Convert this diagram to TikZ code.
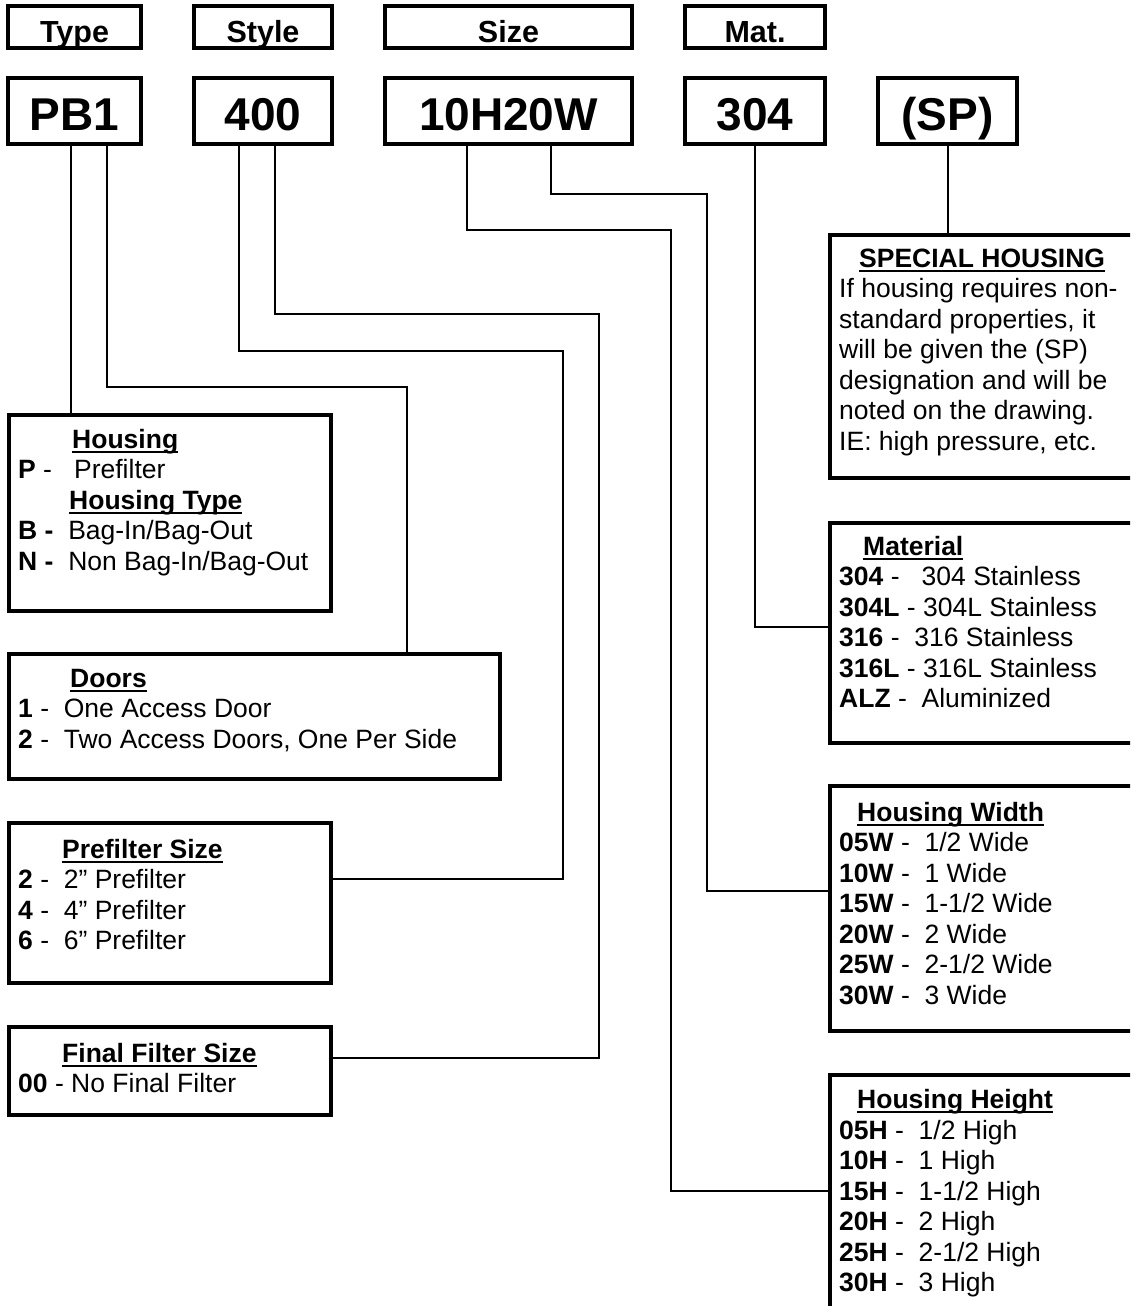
\documentclass[tikz,border=0pt]{standalone}
\usepackage{fontspec}
\setmainfont{Liberation Sans}
\newcommand{\hd}[1]{\setbox0=\hbox{\bfseries #1}\rlap{\rule[-4.5pt]{\wd0}{2pt}}\box0}
\newenvironment{lines}{\begin{tabular}[t]{@{}l@{}}}{\end{tabular}}
\begin{document}
\begin{tikzpicture}[x=1pt,y=-1pt,
  frame/.style={draw, rectangle, line width=4pt, inner sep=0pt},
  conn/.style={line width=2pt},
  hdrtxt/.style={anchor=base, inner sep=0pt, font=\fontsize{30.5}{36}\selectfont\bfseries},
  codetxt/.style={anchor=base, inner sep=0pt, font=\fontsize{46}{55}\selectfont\bfseries},
  body/.style={anchor=base west, inner sep=0pt, font=\fontsize{26.5}{30.5}\selectfont}]
\useasboundingbox (0,0) rectangle (1130,1306);
\clip (0,0) rectangle (1130,1306);
% header boxes
\node[frame, minimum width=133, minimum height=42] (htype) at (74.5,27) {};
\node[frame, minimum width=138, minimum height=42] (hstyle) at (263,27) {};
\node[frame, minimum width=247, minimum height=42] (hsize) at (508.5,27) {};
\node[frame, minimum width=140, minimum height=42] (hmat) at (755,27) {};
\node[hdrtxt] (ttype) at (74.5,43) {Type};
\node[hdrtxt] (tstyle) at (263,43) {Style};
\node[hdrtxt] (tsize) at (508.5,43) {Size};
\node[hdrtxt] (tmat) at (755,43) {Mat.};
% code boxes
\node[frame, minimum width=133, minimum height=66] (pb) at (74.5,111) {};
\node[frame, minimum width=138, minimum height=66] (sty) at (263,111) {};
\node[frame, minimum width=247, minimum height=66] (siz) at (508.5,111) {};
\node[frame, minimum width=140, minimum height=66] (mat) at (755,111) {};
\node[frame, minimum width=139, minimum height=66] (sp) at (947.5,111) {};
\node[codetxt] (cpb) at (74.5,130) {PB1};
\node[codetxt] (csty) at (263,130) {400};
\node[codetxt] (csiz) at (508.5,130) {10H20W};
\node[codetxt] (cmat) at (755,130) {304};
\node[codetxt] (csp) at (947.5,130) {(SP)};
% left description boxes
\node[frame, minimum width=322, minimum height=196] (housing) at (170,513) {};
\node[frame, minimum width=491, minimum height=125] (doors) at (254.5,716.5) {};
\node[frame, minimum width=322, minimum height=160] (prefilter) at (170,903) {};
\node[frame, minimum width=322, minimum height=88] (final) at (170,1071) {};
\node[body] (housingtxt) at (18,448) {\begin{lines}\hspace*{54pt}\hd{Housing}\\
\textbf{P} -\ \ \ Prefilter\\
\hspace*{51pt}\hd{Housing Type}\\
\textbf{B -}\ \ Bag-In/Bag-Out\\
\textbf{N -}\ \ Non Bag-In/Bag-Out\end{lines}};
\node[body] (doorstxt) at (18,687) {\begin{lines}\hspace*{52pt}\hd{Doors}\\
\textbf{1} -\ \ One Access Door\\
\textbf{2} -\ \ Two Access Doors, One Per Side\end{lines}};
\node[body] (prefiltertxt) at (18,858) {\begin{lines}\hspace*{44pt}\hd{Prefilter Size}\\
\textbf{2} -\ \ 2” Prefilter\\
\textbf{4} -\ \ 4” Prefilter\\
\textbf{6} -\ \ 6” Prefilter\end{lines}};
\node[body] (finaltxt) at (18,1062) {\begin{lines}\hspace*{44pt}\hd{Final Filter Size}\\
\textbf{00} - No Final Filter\end{lines}};
% right description boxes
\node[frame, minimum width=320, minimum height=243] (special) at (990,356.5) {};
\node[frame, minimum width=320, minimum height=220] (material) at (990,633) {};
\node[frame, minimum width=320, minimum height=245] (width) at (990,908.5) {};
\node[frame, minimum width=320, minimum height=260] (height) at (990,1205) {};
\node[body] (specialtxt) at (839,267) {\begin{lines}\hspace*{20pt}\hd{SPECIAL HOUSING}\\
If housing requires non-\\
standard properties, it\\
will be given the (SP)\\
designation and will be\\
noted on the drawing.\\
IE: high pressure, etc.\end{lines}};
\node[body] (materialtxt) at (839,555) {\begin{lines}\hspace*{24pt}\hd{Material}\\
\textbf{304} -\ \ \ 304 Stainless\\
\textbf{304L} - 304L Stainless\\
\textbf{316} -\ \ 316 Stainless\\
\textbf{316L} - 316L Stainless\\
\textbf{ALZ} -\ \ Aluminized\end{lines}};
\node[body] (widthtxt) at (839,821) {\begin{lines}\hspace*{18pt}\hd{Housing Width}\\
\textbf{05W} -\ \ 1/2 Wide\\
\textbf{10W} -\ \ 1 Wide\\
\textbf{15W} -\ \ 1-1/2 Wide\\
\textbf{20W} -\ \ 2 Wide\\
\textbf{25W} -\ \ 2-1/2 Wide\\
\textbf{30W} -\ \ 3 Wide\end{lines}};
\node[body] (heighttxt) at (839,1108.5) {\begin{lines}\hspace*{18pt}\hd{Housing Height}\\
\textbf{05H} -\ \ 1/2 High\\
\textbf{10H} -\ \ 1 High\\
\textbf{15H} -\ \ 1-1/2 High\\
\textbf{20H} -\ \ 2 High\\
\textbf{25H} -\ \ 2-1/2 High\\
\textbf{30H} -\ \ 3 High\end{lines}};
% connectors
\draw[conn] (pb.south -| 71,0) -- (housing.north -| 71,0);
\draw[conn] (pb.south -| 107,0) |- (407,387) -- (doors.north -| 407,0);
\draw[conn] (sty.south -| 239,0) |- (563,351) -- (563,879) -- (prefilter.east |- 0,879);
\draw[conn] (sty.south -| 275,0) |- (599,314) -- (599,1058) -- (final.east |- 0,1058);
\draw[conn] (siz.south -| 467,0) |- (671,230) -- (671,1191) -- (height.west |- 0,1191);
\draw[conn] (siz.south -| 551,0) |- (707,194) -- (707,891) -- (width.west |- 0,891);
\draw[conn] (mat.south) |- (material.west |- 0,627);
\draw[conn] (sp.south) -- (special.north -| sp.south);
\end{tikzpicture}
\end{document}
